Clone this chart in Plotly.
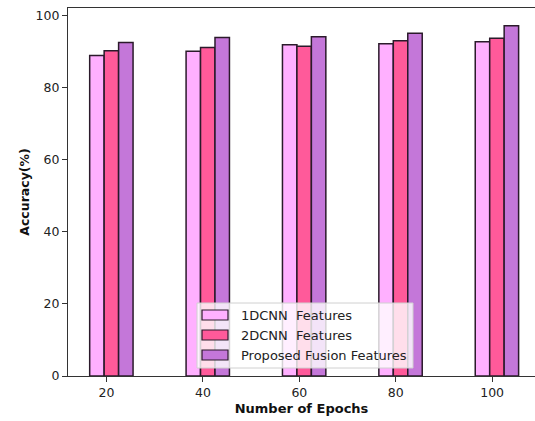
import plotly.graph_objects as go

epochs = [20, 40, 60, 80, 100]
acc_1dcnn = [89.0, 90.2, 92.0, 92.3, 92.8]
acc_2dcnn = [90.3, 91.2, 91.6, 93.1, 93.8]
acc_fusion = [92.6, 94.0, 94.2, 95.2, 97.3]
series_names = ["1DCNN  Features", "2DCNN  Features", "Proposed Fusion Features"]
colors = ["#FFB0FF", "#FF5A9A", "#C477D9"]
edge = "#2b1a2b"

W, H = 535, 421
ml, mr, mt, mb = 68, 0, 8, 45

fig = go.Figure()
offsets = [-3.5, -0.5, 2.5]
for vals, name, col, off in zip([acc_1dcnn, acc_2dcnn, acc_fusion], series_names, colors, offsets):
    fig.add_trace(go.Bar(
        x=epochs, y=vals, name=name, width=3, offset=off,
        marker=dict(color=col, line=dict(color=edge, width=1.5)),
        showlegend=False,
    ))

font = "DejaVu Sans"
fig.update_layout(
    width=W, height=H,
    margin=dict(l=ml, r=mr, t=mt, b=mb),
    plot_bgcolor="white", paper_bgcolor="white",
    barmode="overlay",
    font=dict(family=font, size=12.5, color="#222"),
    xaxis=dict(
        range=[12.0, 108.9], tickvals=epochs, ticktext=[str(e) for e in epochs],
        showgrid=False, zeroline=False, showline=True, linecolor="#333", linewidth=1.2,
        mirror=True, ticks="outside", ticklen=5, tickcolor="#333",
        title=dict(text="<b>Number of Epochs</b>", font=dict(size=13, color="#111"), standoff=4),
    ),
    yaxis=dict(
        range=[0, 102.2], tickvals=[0, 20, 40, 60, 80, 100],
        showgrid=False, zeroline=False, showline=True, linecolor="#333", linewidth=1.2,
        ticks="outside", ticklen=5, tickcolor="#333",
        title=dict(text="<b>Accuracy(%)</b>", font=dict(size=12.5, color="#111"), standoff=3),
    ),
)

# manual legend (matplotlib style)
pw = W - ml - mr
ph = H - mt - mb
def px(xp):
    return (xp - ml) / pw
def py(yp):
    return (H - mb - yp) / ph

fig.add_shape(type="rect", xref="paper", yref="paper",
              x0=px(197), x1=px(413), y0=py(368), y1=py(303),
              fillcolor="rgba(255,255,255,0.8)", line=dict(color="#d0d0d0", width=1), layer="above")
rows = [315, 335, 355]
for name, col, ry in zip(series_names, colors, rows):
    fig.add_shape(type="rect", xref="paper", yref="paper",
                  x0=px(202), x1=px(228), y0=py(ry + 5), y1=py(ry - 5),
                  fillcolor=col, line=dict(color=edge, width=1.2), layer="above")
    fig.add_annotation(xref="paper", yref="paper", x=px(239), y=py(ry),
                       text=name, showarrow=False, xanchor="left", yanchor="middle",
                       font=dict(family=font, size=13, color="#222"))

fig.write_html("out.html", config={"displayModeBar": False},
               post_script="document.body.style.margin='0';document.body.style.overflow='hidden';")
